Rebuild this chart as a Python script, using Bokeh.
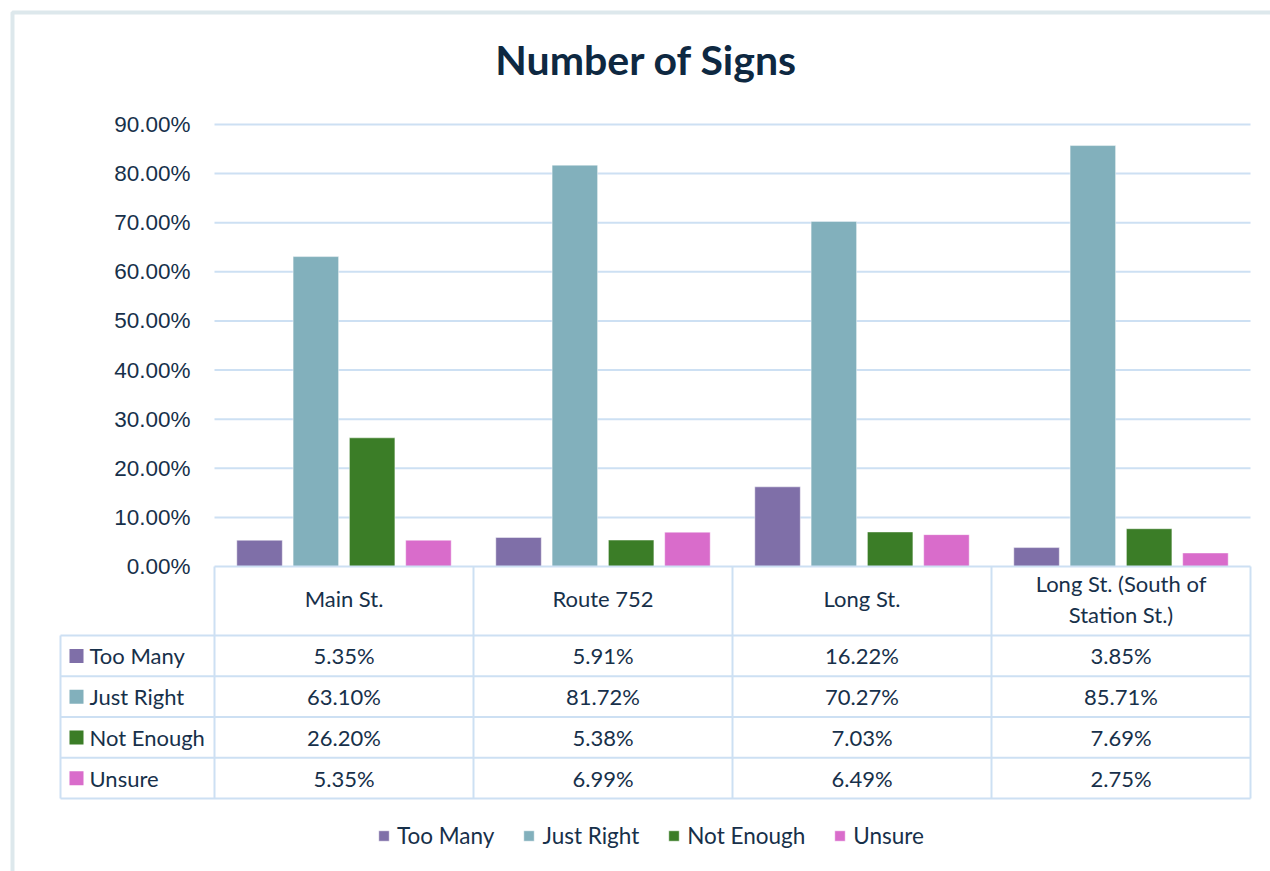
from bokeh.plotting import figure
from bokeh.models import Range1d, FixedTicker, Legend, LegendItem, ColumnDataSource, NumeralTickFormatter
from bokeh.core.properties import value
from bokeh.embed import file_html
from bokeh.resources import INLINE

# ---------------- data ----------------
categories = ["Main St.", "Route 752", "Long St.", "Long St. (South of\nStation St.)"]
series_names = ["Too Many", "Just Right", "Not Enough", "Unsure"]
too_many = [5.35, 5.91, 16.22, 3.85]
just_right = [63.10, 81.72, 70.27, 85.71]
not_enough = [26.20, 5.38, 7.03, 7.69]
unsure = [5.35, 6.99, 6.49, 2.75]
y_ticks = [0.0, 0.1, 0.2, 0.3, 0.4, 0.5, 0.6, 0.7, 0.8, 0.9]
title_text = "Number of Signs"

series_values = [too_many, just_right, not_enough, unsure]
colors = ["#7f6fa8", "#82b0bc", "#3b7d27", "#d96ccb"]
text_color = "#17304a"
grid_color = "#cde0f3"

W, H = 1270, 871
# category area: 214..1250 px, 259 px per category
cat_px = 259.0
left_px = 214.0
x0 = -0.5 - left_px / cat_px
x1 = 3.5 + (W - 1250) / cat_px
# value axis: 0 at 566 px, 0.9 at 124 px
vpx = (566 - 124) / 0.9
y_lo = -(H - 566) / vpx
y_hi = 566 / vpx
# table rows: t=0 at 635 px, 40.75 px per row
row_px = 40.75
t_start = (H - 635) / row_px
t_end = -635 / row_px
header_t = -69 / row_px
label_col_x = -0.5 - 154 / cat_px

p = figure(width=W, height=H, output_backend="svg", toolbar_location=None,
           x_range=Range1d(x0, x1), y_range=Range1d(y_lo, y_hi),
           x_axis_location=None, min_border=0)
p.extra_x_ranges = {"px": Range1d(0, W)}
p.extra_y_ranges = {"px": Range1d(H, 0), "tbl": Range1d(t_start, t_end)}
p.outline_line_color = None
p.xgrid.visible = False
p.ygrid.visible = False
p.background_fill_color = "white"
p.border_fill_color = "white"

# y axis drawn inside the frame at the left edge of the categories
ax = p.yaxis[0]
ax.fixed_location = -0.5
ax.ticker = FixedTicker(ticks=y_ticks)
ax.formatter = NumeralTickFormatter(format="0.00%")
ax.axis_line_color = None
ax.major_tick_line_color = None
ax.minor_tick_line_color = None
ax.major_tick_out = 0
ax.major_tick_in = 0
ax.major_label_standoff = 24
ax.major_label_text_font = "Liberation Sans"
ax.major_label_text_font_size = "22.5px"
ax.major_label_text_color = text_color

# grid lines
p.segment(x0=[-0.5] * (len(y_ticks) - 1), x1=[3.5] * (len(y_ticks) - 1),
          y0=y_ticks[1:], y1=y_ticks[1:], line_color=grid_color, line_width=2)

# bars
step = 56.3 / cat_px
bw = 45.5 / cat_px
renderers = []
for k, (name, vals, col) in enumerate(zip(series_names, series_values, colors)):
    xs = [i + (k - 1.5) * step for i in range(len(categories))]
    src = ColumnDataSource(dict(x=xs, top=[v / 100 for v in vals]))
    r = p.vbar(x="x", top="top", bottom=0, width=bw, source=src,
               fill_color=col, line_color="white", line_alpha=0.45, line_width=1)
    renderers.append(r)

# table lines
n_rows = len(series_names)
p.segment(x0=[-0.5], x1=[3.5], y0=[header_t], y1=[header_t], y_range_name="tbl",
          line_color=grid_color, line_width=2)
p.segment(x0=[label_col_x] * (n_rows + 1), x1=[3.5] * (n_rows + 1),
          y0=list(range(n_rows + 1)), y1=list(range(n_rows + 1)), y_range_name="tbl",
          line_color=grid_color, line_width=2)
bounds = [i - 0.5 for i in range(len(categories) + 1)]
p.segment(x0=bounds, x1=bounds, y0=[header_t] * len(bounds), y1=[n_rows] * len(bounds),
          y_range_name="tbl", line_color=grid_color, line_width=2)
p.segment(x0=[label_col_x], x1=[label_col_x], y0=[0], y1=[n_rows], y_range_name="tbl",
          line_color=grid_color, line_width=2)

FS = "22px"
# header text
p.text(x=list(range(len(categories))), y=[header_t / 2 - 0.05] * len(categories), text=categories,
       y_range_name="tbl", text_font=value("Lato"), text_font_size=FS,
       text_color=text_color, text_align="center", text_baseline="middle",
       text_line_height=1.15)

# value cells
cell_x, cell_y, cell_t = [], [], []
for k, vals in enumerate(series_values):
    for i, v in enumerate(vals):
        cell_x.append(i)
        cell_y.append(k + 0.5)
        cell_t.append(f"{v:.2f}%")
p.text(x=cell_x, y=cell_y, text=cell_t, y_range_name="tbl", text_font=value("Lato"),
       text_font_size=FS, text_color=text_color, text_align="center",
       text_baseline="middle")

# row labels with legend keys
key_x = label_col_x + 16 / cat_px
lab_x = label_col_x + 29 / cat_px
rows = [k + 0.5 for k in range(n_rows)]
p.rect(x=[key_x] * n_rows, y=rows, width=14, height=14, width_units="screen",
       height_units="screen", y_range_name="tbl", fill_color=colors, line_color=None)
p.text(x=[lab_x] * n_rows, y=rows, text=series_names, y_range_name="tbl",
       text_font=value("Lato"), text_font_size=FS, text_color=text_color,
       text_align="left", text_baseline="middle")

# title
p.text(x=[646], y=[59], text=[title_text], x_range_name="px", y_range_name="px",
       text_font=value("Lato"), text_font_style="bold", text_font_size="41px",
       text_color="#0e2841", text_align="center", text_baseline="middle")

# outer border
p.quad(left=[12], right=[W + 10], top=[12], bottom=[H + 10], x_range_name="px",
       y_range_name="px", fill_color=None, line_color="#dde8ec", line_width=4)

# legend
legend = Legend(items=[LegendItem(label=n, renderers=[r]) for n, r in zip(series_names, renderers)],
                orientation="horizontal", location=(377, 22))
legend.label_text_font = "Lato"
legend.label_text_font_size = "22.5px"
legend.label_text_color = text_color
legend.glyph_width = 13
legend.glyph_height = 13
legend.spacing = 28
legend.label_standoff = 7
legend.padding = 0
legend.margin = 0
legend.border_line_color = None
legend.background_fill_alpha = 0
p.add_layout(legend)

open("out.html", "w").write(file_html(p, INLINE))
